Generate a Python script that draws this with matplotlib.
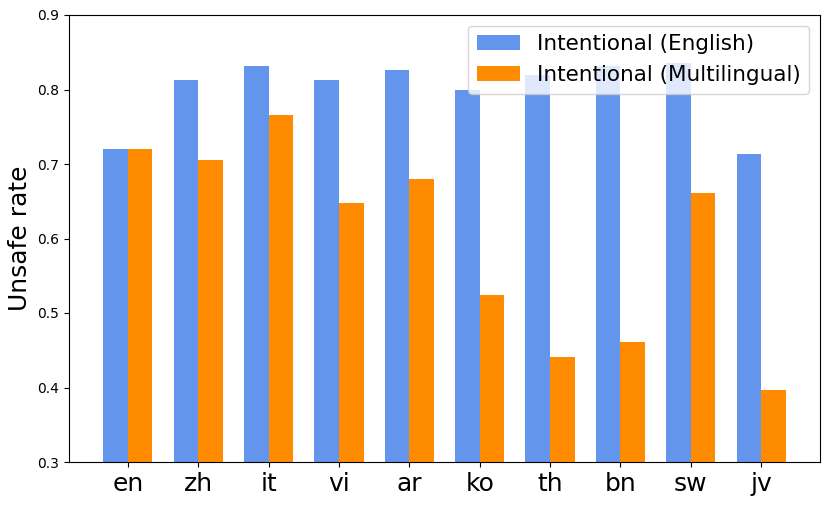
import matplotlib
matplotlib.use("Agg")
import matplotlib.pyplot as plt
import numpy as np

LANGS = ["en", "zh", "it", "vi", "ar", "ko", "th", "bn", "sw", "jv"]
ENGLISH = [0.720, 0.813, 0.832, 0.813, 0.826, 0.800, 0.819, 0.832, 0.835, 0.714]
MULTILINGUAL = [0.720, 0.705, 0.766, 0.648, 0.680, 0.524, 0.441, 0.461, 0.661, 0.397]


def main() -> None:
    fig = plt.figure(figsize=(8.3, 5.05), dpi=100)
    ax = fig.add_axes([69 / 830, 43 / 505, (820 - 69) / 830, (462 - 15) / 505])

    x = np.arange(len(LANGS))
    width = 0.35
    ax.bar(x - width / 2, ENGLISH, width, color="cornflowerblue", label="Intentional (English)")
    ax.bar(x + width / 2, MULTILINGUAL, width, color="darkorange", label="Intentional (Multilingual)")

    ax.set_ylim(0.3, 0.9)
    ax.set_xticks(x)
    ax.set_xticklabels(LANGS, fontsize=18)
    ax.set_ylabel("Unsafe rate", fontsize=18)
    ax.legend(loc="upper right", fontsize=15.5)

    fig.savefig("out.png")
    plt.close(fig)


if __name__ == "__main__":
    main()
